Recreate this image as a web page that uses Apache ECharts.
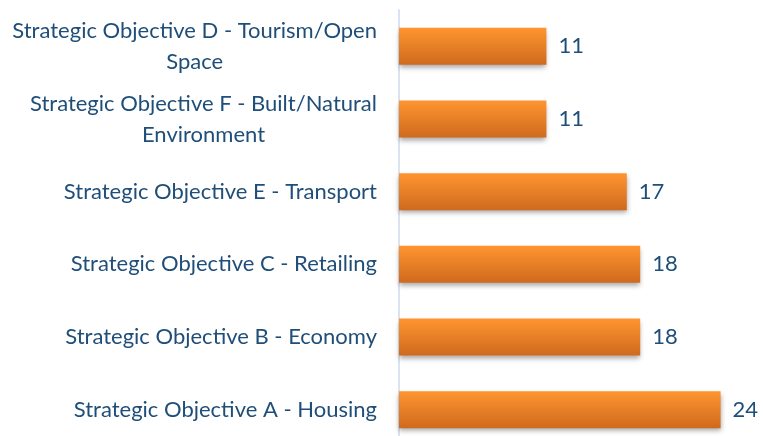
<!DOCTYPE html>
<html>
<head>
<meta charset="utf-8">
<script src="https://cdn.jsdelivr.net/npm/echarts@6/dist/echarts.min.js"></script>
<style>
  html, body { margin: 0; padding: 0; background: #fff; }
  #chart { width: 763px; height: 436px; }
</style>
</head>
<body>
<div id="chart"></div>
<script>
// top to bottom, as in the picture
var categories = [
  'Strategic Objective D - Tourism/Open\nSpace',
  'Strategic Objective F - Built/Natural\nEnvironment',
  'Strategic Objective E - Transport',
  'Strategic Objective C - Retailing',
  'Strategic Objective B - Economy',
  'Strategic Objective A - Housing'
];
var counts = [11, 11, 17, 18, 18, 24];

var textColor = '#1f4e79';
var fontName = 'Lato';

var chart = echarts.init(document.getElementById('chart'));
chart.setOption({
  animation: false,
  // the picture is cropped: the plot runs past the bottom edge
  grid: { left: 399, top: 10, width: 321.6, height: 436, outerBoundsMode: 'none', containLabel: false },
  xAxis: {
    type: 'value', min: 0, max: 24, show: false
  },
  yAxis: {
    type: 'category',
    inverse: true,
    data: categories,
    axisLine: { show: true, lineStyle: { color: '#d9e3f2', width: 2 } },
    axisTick: { show: false },
    axisLabel: {
      margin: 22,
      color: textColor,
      fontFamily: fontName,
      fontSize: 22,
      formatter: function (v) {
        return v.split('\n').map(function (s) { return '{c|' + s + '}'; }).join('\n');
      },
      rich: {
        c: { align: 'center', color: textColor, fontFamily: fontName, fontSize: 22, lineHeight: 31 }
      }
    }
  },
  series: [{
    type: 'bar',
    data: counts,
    barWidth: 37,
    itemStyle: {
      color: new echarts.graphic.LinearGradient(0, 0, 0, 1, [
        { offset: 0, color: '#ff9530' },
        { offset: 1, color: '#cf6a1e' }
      ]),
      shadowColor: 'rgba(0,0,0,0.35)',
      shadowBlur: 5,
      shadowOffsetY: 3
    },
    label: {
      show: true,
      position: 'right',
      distance: 12,
      color: textColor,
      fontFamily: fontName,
      fontSize: 22
    }
  }]
});
</script>
</body>
</html>
